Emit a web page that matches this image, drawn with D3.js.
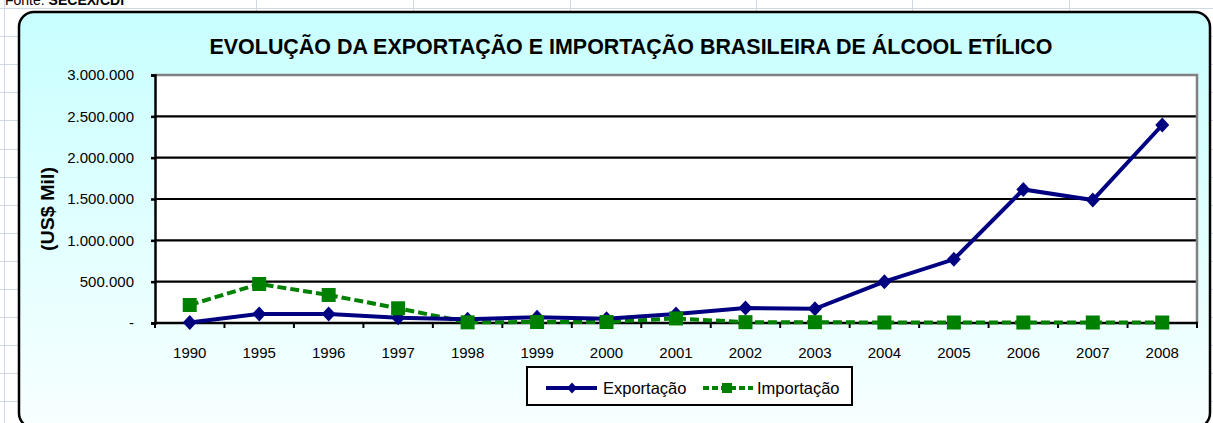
<!DOCTYPE html>
<html>
<head>
<meta charset="utf-8">
<script src="https://cdn.jsdelivr.net/npm/d3@7"></script>
<style>
  body { margin: 0; background: #fff; }
  svg { display: block; font-family: Arial, "Liberation Sans", sans-serif; }
</style>
</head>
<body>
<script>
// dados (US$ Mil)
var anos = ["1990","1995","1996","1997","1998","1999","2000","2001","2002","2003","2004","2005","2006","2007","2008"];
var exportacao = [5000, 110000, 110000, 65000, 45000, 70000, 50000, 110000, 180000, 172000, 500000, 770000, 1615000, 1488000, 2395000];
var importacao = [218000, 472000, 339000, 178000, 8000, 12000, 12000, 55000, 10000, 10000, 6000, 6000, 6000, 6000, 6000];
var yTicks = [0, 500000, 1000000, 1500000, 2000000, 2500000, 3000000];
var titulo = "EVOLUÇÃO DA EXPORTAÇÃO E IMPORTAÇÃO BRASILEIRA DE ÁLCOOL ETÍLICO";

var W = 1213, H = 423;

var svg = d3.select("body").append("svg")
    .attr("width", W)
    .attr("height", H);

// grade da planilha ao fundo
var gridG = svg.append("g").attr("stroke", "#d0d7e5").attr("stroke-width", 1);
d3.range(15).forEach(function (i) {
    var yy = Math.round(8 + i * 28.1) + 0.5;
    gridG.append("line").attr("x1", 0).attr("x2", W).attr("y1", yy).attr("y2", yy);
});
[4, 256, 413, 570, 756, 912, 1069].forEach(function (xx) {
    gridG.append("line").attr("x1", xx + 0.5).attr("x2", xx + 0.5).attr("y1", 0).attr("y2", H);
});

// "Fonte" cortada no topo (como na planilha)
svg.append("text")
    .attr("x", 5).attr("y", 5)
    .attr("font-size", 14)
    .html("Fonte: <tspan font-weight='bold'>SECEX/CDI</tspan>");

// gradiente da área do gráfico
var defs = svg.append("defs");
var grad = defs.append("linearGradient")
    .attr("id", "fundo").attr("x1", 0).attr("y1", 0).attr("x2", 0).attr("y2", 1);
grad.append("stop").attr("offset", "0%").attr("stop-color", "#c8ffff");
grad.append("stop").attr("offset", "100%").attr("stop-color", "#f8ffff");

svg.append("rect")
    .attr("x", 19).attr("y", 12)
    .attr("width", 1191).attr("height", 416)
    .attr("rx", 15).attr("ry", 15)
    .attr("fill", "url(#fundo)")
    .attr("stroke", "#000")
    .attr("stroke-width", 2.5);

// título
svg.append("text")
    .attr("x", 631).attr("y", 54)
    .attr("text-anchor", "middle")
    .attr("font-size", 22)
    .attr("font-weight", "bold")
    .attr("textLength", 843)
    .attr("lengthAdjust", "spacingAndGlyphs")
    .text(titulo);

// escalas
var plot = {left: 155, right: 1197, top: 75, bottom: 323};

var x = d3.scaleBand()
    .domain(anos)
    .range([plot.left, plot.right])
    .padding(0);

var y = d3.scaleLinear()
    .domain([0, 3000000])
    .range([plot.bottom, plot.top]);

// área de plotagem
svg.append("rect")
    .attr("x", plot.left).attr("y", plot.top)
    .attr("width", plot.right - plot.left)
    .attr("height", plot.bottom - plot.top)
    .attr("fill", "#fff");

// linhas de grade
svg.append("g")
    .selectAll("line")
    .data(yTicks.slice(1, -1))
    .join("line")
    .attr("x1", plot.left).attr("x2", plot.right)
    .attr("y1", function (d) { return y(d); })
    .attr("y2", function (d) { return y(d); })
    .attr("stroke", "#000")
    .attr("stroke-width", 2.2);

// borda cinza (topo e direita)
svg.append("path")
    .attr("d", "M" + plot.left + "," + plot.top + "H" + plot.right + "V" + plot.bottom)
    .attr("fill", "none")
    .attr("stroke", "#808080")
    .attr("stroke-width", 2.5);

// eixo Y
var fmt = function (d) { return d === 0 ? "-" : d3.format(",")(d).replace(/,/g, "."); };
var yAxis = d3.axisLeft(y).tickValues(yTicks).tickFormat(fmt).tickSize(4).tickPadding(17);
var gy = svg.append("g")
    .attr("transform", "translate(" + plot.left + ",0)")
    .call(yAxis);
gy.select(".domain").attr("stroke", "#000").attr("stroke-width", 2.5);
gy.selectAll(".tick line").attr("stroke", "#000").attr("stroke-width", 2.5);
gy.selectAll(".tick text")
    .attr("font-size", 15)
    .attr("font-family", "Arial, 'Liberation Sans', sans-serif")
    .attr("fill", "#000");

// eixo X (rótulos no centro, marcas nas divisas)
var xAxis = d3.axisBottom(x).tickSize(0).tickPadding(24);
var gx = svg.append("g")
    .attr("transform", "translate(0," + plot.bottom + ")")
    .call(xAxis);
gx.select(".domain").remove();
gx.selectAll(".tick text")
    .attr("font-size", 15)
    .attr("font-family", "Arial, 'Liberation Sans', sans-serif")
    .attr("fill", "#000");

svg.append("line")
    .attr("x1", plot.left).attr("x2", plot.right + 1)
    .attr("y1", plot.bottom).attr("y2", plot.bottom)
    .attr("stroke", "#000").attr("stroke-width", 2.5);

svg.append("g")
    .selectAll("line")
    .data(anos.concat(["fim"]))
    .join("line")
    .attr("x1", function (d, i) { return i < anos.length ? x(d) : plot.right; })
    .attr("x2", function (d, i) { return i < anos.length ? x(d) : plot.right; })
    .attr("y1", plot.bottom)
    .attr("y2", plot.bottom + 5)
    .attr("stroke", "#000")
    .attr("stroke-width", 2);

// título do eixo Y
svg.append("text")
    .attr("transform", "translate(48,209) rotate(-90)")
    .attr("text-anchor", "middle")
    .attr("dy", "0.35em")
    .attr("font-size", 18)
    .attr("font-weight", "bold")
    .attr("textLength", 84)
    .attr("lengthAdjust", "spacingAndGlyphs")
    .text("(US$ Mil)");

// séries
var cx = function (d, i) { return x(anos[i]) + x.bandwidth() / 2; };
var linha = d3.line()
    .x(function (d, i) { return cx(d, i); })
    .y(function (d) { return y(d); });

svg.append("path")
    .datum(importacao)
    .attr("d", linha)
    .attr("fill", "none")
    .attr("stroke", "#008000")
    .attr("stroke-width", 4)
    .attr("stroke-dasharray", "9,4");

svg.append("path")
    .datum(exportacao)
    .attr("d", linha)
    .attr("fill", "none")
    .attr("stroke", "#000080")
    .attr("stroke-width", 4);

svg.append("g")
    .selectAll("path")
    .data(exportacao)
    .join("path")
    .attr("d", "M0,-7.5L7,0L0,7.5L-7,0Z")
    .attr("transform", function (d, i) { return "translate(" + cx(d, i) + "," + y(d) + ")"; })
    .attr("fill", "#000080");

svg.append("g")
    .selectAll("rect")
    .data(importacao)
    .join("rect")
    .attr("x", function (d, i) { return cx(d, i) - 7; })
    .attr("y", function (d) { return y(d) - 7; })
    .attr("width", 14).attr("height", 14)
    .attr("fill", "#008000");

// legenda
var leg = svg.append("g");
leg.append("rect")
    .attr("x", 527).attr("y", 367)
    .attr("width", 325).attr("height", 38)
    .attr("fill", "#fff")
    .attr("stroke", "#000")
    .attr("stroke-width", 2);

var ly = 388;
leg.append("line")
    .attr("x1", 546).attr("x2", 597).attr("y1", ly).attr("y2", ly)
    .attr("stroke", "#000080").attr("stroke-width", 4);
leg.append("path")
    .attr("d", "M0,-5.5L5,0L0,5.5L-5,0Z")
    .attr("transform", "translate(572," + ly + ")")
    .attr("fill", "#000080");
leg.append("text")
    .attr("x", 603).attr("y", ly).attr("dy", "0.35em")
    .attr("font-size", 16.5)
    .text("Exportação");

leg.append("line")
    .attr("x1", 703).attr("x2", 753).attr("y1", ly).attr("y2", ly)
    .attr("stroke", "#008000").attr("stroke-width", 4)
    .attr("stroke-dasharray", "6,3");
leg.append("rect")
    .attr("x", 722).attr("y", ly - 5)
    .attr("width", 10).attr("height", 10)
    .attr("fill", "#008000");
leg.append("text")
    .attr("x", 757).attr("y", ly).attr("dy", "0.35em")
    .attr("font-size", 16.5)
    .text("Importação");
</script>
</body>
</html>
